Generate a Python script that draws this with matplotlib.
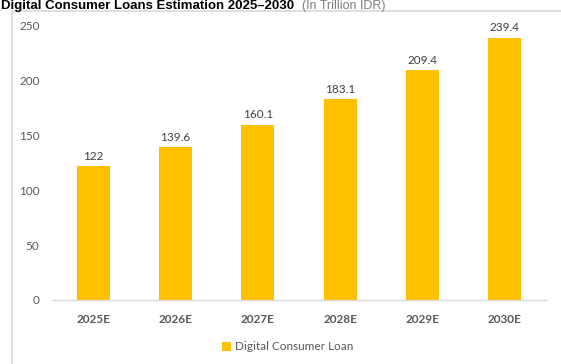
import matplotlib
matplotlib.use("Agg")
import matplotlib.pyplot as plt
from matplotlib.patches import Rectangle

categories = ["2025E", "2026E", "2027E", "2028E", "2029E", "2030E"]
values = [122, 139.6, 160.1, 183.1, 209.4, 239.4]
value_labels = ["122", "139.6", "160.1", "183.1", "209.4", "239.4"]
series_name = "Digital Consumer Loan"
yticks = [0, 50, 100, 150, 200, 250]
title_main = "Digital Consumer Loans Estimation 2025\u20132030"
title_unit = "(In Trillion IDR)"

W, H = 561, 364
fig = plt.figure(figsize=(W / 100, H / 100), dpi=100)
fig.patch.set_facecolor("white")

# chart frame
fig.patches.append(Rectangle((12 / W, -0.1), 1.2, (H - 11) / H + 0.1,
                             transform=fig.transFigure, fill=False,
                             edgecolor="#D9D9D9", lw=1.2, zorder=0))

ax = fig.add_axes([52 / W, (H - 300) / H, 494 / W, 274 / H])
bar_color = "#FFC000"
x = range(len(categories))
bars = ax.bar(x, values, width=0.4, color=bar_color, zorder=2)
ax.set_xlim(-0.5, len(categories) - 0.5)
ax.set_ylim(0, 250)
ax.set_yticks(yticks)
ax.set_yticklabels([str(t) for t in yticks], fontsize=8.5, color="#595959",
                   family="Lato")
ax.set_xticks(list(x))
ax.set_xticklabels(categories, fontsize=8.5, color="#595959", fontweight="bold",
                   family="Lato")
ax.tick_params(axis="both", length=0)
ax.tick_params(axis="y", pad=9)
ax.tick_params(axis="x", pad=10)
for s in ["top", "right", "left"]:
    ax.spines[s].set_visible(False)
ax.spines["bottom"].set_color("#D9D9D9")
ax.spines["bottom"].set_linewidth(1)

for b, lbl in zip(bars, value_labels):
    ax.annotate(lbl, (b.get_x() + b.get_width() / 2, b.get_height()),
                xytext=(0, 3), textcoords="offset points", ha="center",
                va="bottom", fontsize=8.5, color="#404040", family="Lato")

leg = ax.legend([bars[0]], [series_name], loc="center",
                bbox_to_anchor=(288 / W, (H - 347) / H), bbox_transform=fig.transFigure,
                frameon=False, handlelength=0.7, handleheight=0.7,
                handletextpad=0.4, prop={"family": "Lato", "size": 8.5})
for t in leg.get_texts():
    t.set_color("#595959")

# title in the strip above the frame
t1 = fig.text(1 / W, 1 - 9.5 / H, title_main,
              fontsize=9.5, fontweight="bold", color="black", va="baseline",
              ha="left", family="Liberation Sans")
fig.canvas.draw()
bb = t1.get_window_extent(fig.canvas.get_renderer())
fig.text((bb.x1 + 8) / W, 1 - 9.5 / H, title_unit, fontsize=9,
         color="#7F7F7F", va="baseline", ha="left", family="Liberation Sans")

fig.savefig("out.png", dpi=100, facecolor="white")
